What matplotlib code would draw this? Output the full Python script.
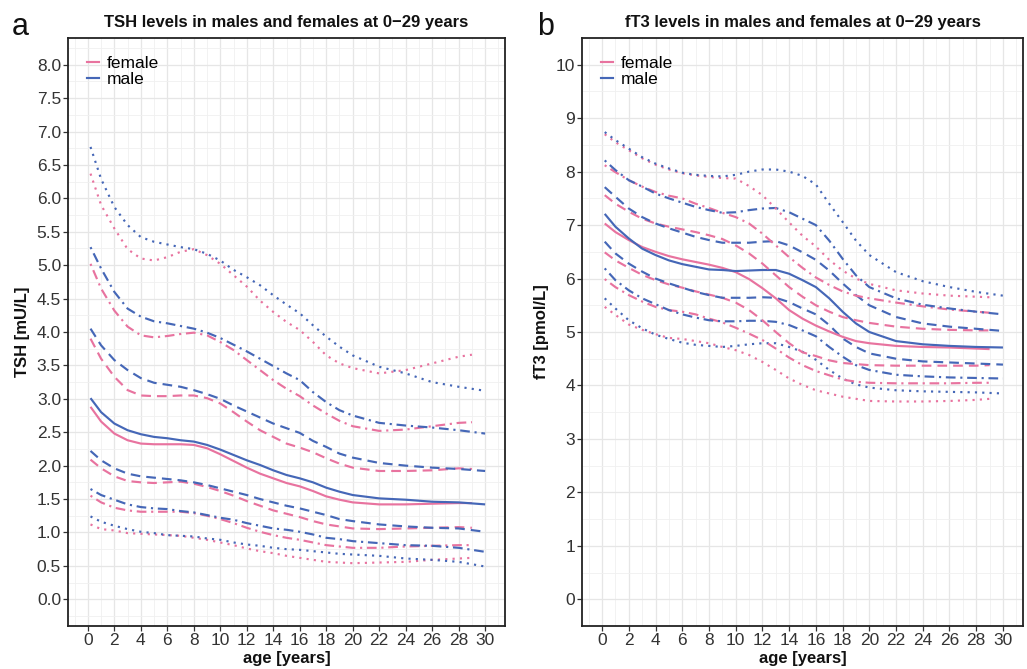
import matplotlib
matplotlib.use("Agg")
import matplotlib.pyplot as plt
from matplotlib.lines import Line2D
from matplotlib.ticker import MultipleLocator

plt.rcParams['font.family'] = ['Liberation Sans', 'DejaVu Sans']

# ---------------- data ----------------
age_m = [0.2, 1, 2, 3, 4, 5, 6, 7, 8, 9, 10, 11, 12, 13, 14, 15, 16, 17, 18, 19, 20, 22, 24, 26, 28, 30]
age_f = [0.2, 1, 2, 3, 4, 5, 6, 7, 8, 9, 10, 11, 12, 13, 14, 15, 16, 17, 18, 19, 20, 22, 24, 26, 28, 29]
percentile_styles = ["p2.5", "p5", "p25", "p50", "p75", "p95", "p97.5"]

# TSH [mU/L]
tsh_male = {
    "p97.5": [6.77, 6.29, 5.87, 5.60, 5.42, 5.35, 5.31, 5.27, 5.24, 5.17, 5.07, 4.93, 4.82, 4.70, 4.55, 4.41, 4.28, 4.10, 3.93, 3.78, 3.65, 3.48, 3.38, 3.25, 3.18, 3.12],
    "p95":   [5.27, 4.95, 4.60, 4.35, 4.23, 4.16, 4.13, 4.09, 4.05, 3.99, 3.91, 3.81, 3.71, 3.60, 3.49, 3.38, 3.28, 3.10, 2.95, 2.83, 2.75, 2.64, 2.60, 2.57, 2.53, 2.48],
    "p75":   [4.05, 3.80, 3.58, 3.43, 3.31, 3.24, 3.21, 3.18, 3.13, 3.07, 3.00, 2.90, 2.81, 2.72, 2.63, 2.56, 2.49, 2.37, 2.28, 2.18, 2.12, 2.04, 2.00, 1.97, 1.95, 1.92],
    "p50":   [3.01, 2.80, 2.63, 2.53, 2.47, 2.43, 2.41, 2.38, 2.36, 2.31, 2.24, 2.16, 2.08, 2.01, 1.93, 1.86, 1.81, 1.75, 1.67, 1.61, 1.56, 1.51, 1.49, 1.46, 1.45, 1.42],
    "p25":   [2.22, 2.08, 1.96, 1.88, 1.84, 1.82, 1.80, 1.78, 1.75, 1.71, 1.66, 1.61, 1.56, 1.50, 1.45, 1.40, 1.36, 1.31, 1.26, 1.20, 1.17, 1.12, 1.09, 1.07, 1.06, 1.01],
    "p5":    [1.65, 1.56, 1.49, 1.42, 1.38, 1.36, 1.35, 1.32, 1.30, 1.26, 1.22, 1.19, 1.14, 1.10, 1.06, 1.04, 1.01, 0.97, 0.92, 0.90, 0.87, 0.84, 0.81, 0.80, 0.77, 0.71],
    "p2.5":  [1.24, 1.16, 1.10, 1.05, 1.01, 0.99, 0.96, 0.95, 0.94, 0.91, 0.89, 0.85, 0.82, 0.80, 0.77, 0.75, 0.74, 0.72, 0.70, 0.68, 0.67, 0.65, 0.61, 0.59, 0.56, 0.49],
}
tsh_female = {
    "p97.5": [6.37, 5.90, 5.55, 5.24, 5.10, 5.07, 5.12, 5.20, 5.24, 5.15, 5.02, 4.85, 4.68, 4.47, 4.30, 4.15, 4.03, 3.85, 3.65, 3.53, 3.46, 3.38, 3.43, 3.53, 3.63, 3.66],
    "p95":   [5.02, 4.65, 4.32, 4.08, 3.95, 3.92, 3.94, 3.97, 3.99, 3.95, 3.85, 3.73, 3.58, 3.43, 3.28, 3.15, 3.04, 2.90, 2.78, 2.67, 2.59, 2.52, 2.54, 2.59, 2.64, 2.65],
    "p75":   [3.90, 3.60, 3.33, 3.13, 3.05, 3.04, 3.04, 3.05, 3.05, 3.01, 2.93, 2.80, 2.66, 2.53, 2.43, 2.33, 2.27, 2.20, 2.11, 2.03, 1.97, 1.92, 1.92, 1.93, 1.96, 1.95],
    "p50":   [2.88, 2.66, 2.48, 2.38, 2.33, 2.32, 2.32, 2.32, 2.31, 2.26, 2.17, 2.07, 1.97, 1.88, 1.81, 1.74, 1.69, 1.62, 1.54, 1.49, 1.45, 1.42, 1.42, 1.43, 1.44, 1.44],
    "p25":   [2.09, 1.96, 1.84, 1.77, 1.75, 1.74, 1.75, 1.76, 1.73, 1.68, 1.62, 1.55, 1.47, 1.40, 1.33, 1.28, 1.23, 1.17, 1.12, 1.09, 1.06, 1.05, 1.06, 1.07, 1.08, 1.07],
    "p5":    [1.55, 1.45, 1.37, 1.33, 1.31, 1.31, 1.31, 1.31, 1.29, 1.25, 1.20, 1.14, 1.07, 1.01, 0.96, 0.92, 0.89, 0.85, 0.81, 0.79, 0.77, 0.77, 0.79, 0.80, 0.81, 0.81],
    "p2.5":  [1.12, 1.05, 1.03, 0.99, 0.98, 0.97, 0.96, 0.95, 0.92, 0.89, 0.85, 0.81, 0.76, 0.72, 0.69, 0.65, 0.62, 0.59, 0.56, 0.55, 0.54, 0.55, 0.56, 0.59, 0.61, 0.62],
}

# fT3 [pmol/L]
ft3_male = {
    "p97.5": [8.74, 8.59, 8.43, 8.27, 8.15, 8.06, 7.98, 7.94, 7.92, 7.91, 7.94, 8.00, 8.04, 8.04, 8.00, 7.92, 7.76, 7.40, 7.06, 6.71, 6.44, 6.12, 5.95, 5.84, 5.75, 5.68],
    "p95":   [8.21, 8.03, 7.84, 7.72, 7.59, 7.50, 7.42, 7.34, 7.28, 7.23, 7.24, 7.28, 7.31, 7.32, 7.24, 7.12, 7.00, 6.71, 6.37, 6.06, 5.84, 5.63, 5.51, 5.44, 5.38, 5.33],
    "p75":   [7.71, 7.53, 7.31, 7.15, 7.03, 6.94, 6.86, 6.78, 6.72, 6.67, 6.67, 6.67, 6.69, 6.70, 6.62, 6.49, 6.35, 6.15, 5.91, 5.69, 5.50, 5.28, 5.16, 5.10, 5.06, 5.02],
    "p50":   [7.21, 6.97, 6.75, 6.56, 6.44, 6.34, 6.27, 6.22, 6.17, 6.16, 6.14, 6.15, 6.16, 6.16, 6.09, 5.97, 5.84, 5.63, 5.38, 5.16, 5.00, 4.83, 4.77, 4.74, 4.72, 4.71],
    "p25":   [6.69, 6.47, 6.28, 6.13, 6.00, 5.91, 5.83, 5.75, 5.69, 5.64, 5.64, 5.64, 5.65, 5.64, 5.56, 5.44, 5.33, 5.13, 4.88, 4.72, 4.60, 4.50, 4.45, 4.43, 4.41, 4.39],
    "p5":    [6.19, 5.97, 5.78, 5.63, 5.52, 5.41, 5.33, 5.27, 5.22, 5.20, 5.20, 5.21, 5.21, 5.19, 5.13, 5.03, 4.92, 4.72, 4.54, 4.38, 4.29, 4.20, 4.17, 4.15, 4.14, 4.13],
    "p2.5":  [5.63, 5.44, 5.22, 5.07, 4.95, 4.87, 4.80, 4.76, 4.74, 4.72, 4.74, 4.77, 4.79, 4.79, 4.72, 4.63, 4.48, 4.29, 4.13, 4.02, 3.96, 3.91, 3.89, 3.88, 3.87, 3.85],
}
ft3_female = {
    "p97.5": [8.70, 8.55, 8.40, 8.25, 8.13, 8.04, 7.97, 7.93, 7.90, 7.88, 7.87, 7.73, 7.56, 7.31, 7.05, 6.80, 6.60, 6.35, 6.15, 6.00, 5.90, 5.78, 5.72, 5.68, 5.66, 5.65],
    "p95":   [8.12, 7.99, 7.84, 7.72, 7.62, 7.55, 7.50, 7.40, 7.32, 7.23, 7.15, 7.03, 6.84, 6.62, 6.40, 6.20, 6.02, 5.88, 5.76, 5.68, 5.63, 5.55, 5.48, 5.42, 5.38, 5.36],
    "p75":   [7.56, 7.40, 7.25, 7.12, 7.03, 6.97, 6.92, 6.87, 6.81, 6.74, 6.62, 6.47, 6.28, 6.06, 5.84, 5.66, 5.50, 5.38, 5.28, 5.22, 5.17, 5.10, 5.06, 5.04, 5.03, 5.03],
    "p50":   [7.03, 6.87, 6.72, 6.59, 6.50, 6.42, 6.36, 6.31, 6.26, 6.20, 6.12, 5.99, 5.82, 5.63, 5.41, 5.25, 5.12, 5.01, 4.91, 4.83, 4.79, 4.74, 4.72, 4.71, 4.69, 4.68],
    "p25":   [6.49, 6.34, 6.20, 6.07, 5.97, 5.89, 5.83, 5.76, 5.70, 5.64, 5.55, 5.41, 5.22, 5.00, 4.79, 4.62, 4.55, 4.47, 4.42, 4.40, 4.38, 4.37, 4.37, 4.37, 4.37, 4.38],
    "p5":    [5.99, 5.84, 5.69, 5.57, 5.47, 5.41, 5.38, 5.33, 5.25, 5.18, 5.08, 4.97, 4.85, 4.69, 4.52, 4.38, 4.27, 4.19, 4.11, 4.07, 4.05, 4.04, 4.04, 4.04, 4.05, 4.05],
    "p2.5":  [5.47, 5.32, 5.14, 5.04, 4.96, 4.89, 4.87, 4.83, 4.79, 4.72, 4.66, 4.57, 4.44, 4.29, 4.13, 4.01, 3.91, 3.85, 3.79, 3.75, 3.71, 3.70, 3.70, 3.71, 3.73, 3.75],
}

x_ticks = list(range(0, 31, 2))
tsh_ticks = [i * 0.5 for i in range(17)]
ft3_ticks = list(range(0, 11))

# ---------------- style ----------------
COL_F = "#E8739F"
COL_M = "#4567B7"
LW = 1.55
dotted = (0, (1, 2.4))
dashdot = (0, (1, 2.2, 4.5, 2.2))
dashed = (0, (4.5, 2.8))
style_of = {"p2.5": dotted, "p97.5": dotted, "p5": dashdot, "p95": dashdot,
            "p25": dashed, "p75": dashed, "p50": "solid"}

W, H = 1027, 669
fig = plt.figure(figsize=(W / 100, H / 100), dpi=100)
fig.patch.set_facecolor("white")


def px_axes(l, r, t, b):
    return fig.add_axes([l / W, 1 - b / H, (r - l) / W, (b - t) / H])


axA = px_axes(68, 505, 38, 626)
axB = px_axes(582, 1023, 38, 626)


def draw(ax, male, female, yticks, ylim, yminor, title, ylabel):
    ax.set_facecolor("white")
    for key in percentile_styles:
        ax.plot(age_f, female[key], color=COL_F, lw=LW, linestyle=style_of[key],
                dash_capstyle="butt", solid_capstyle="butt", zorder=3)
        ax.plot(age_m, male[key], color=COL_M, lw=LW, linestyle=style_of[key],
                dash_capstyle="butt", solid_capstyle="butt", zorder=3)
    ax.set_xlim(-1.5, 31.5)
    ax.set_ylim(*ylim)
    ax.set_xticks(x_ticks)
    ax.set_xticklabels([str(v) for v in x_ticks])
    ax.set_yticks(yticks)
    if isinstance(yticks[1], float):
        ax.set_yticklabels([f"{v:.1f}" for v in yticks])
    else:
        ax.set_yticklabels([str(v) for v in yticks])
    ax.xaxis.set_minor_locator(MultipleLocator(1))
    ax.yaxis.set_minor_locator(MultipleLocator(yminor))
    ax.grid(which="major", color="#E6E6E6", lw=0.9, zorder=0)
    ax.grid(which="minor", color="#F0F0F0", lw=0.6, zorder=0)
    ax.set_axisbelow(True)
    ax.tick_params(which="minor", length=0)
    ax.tick_params(which="major", length=3.5, width=0.9, color="#333333",
                   labelsize=12.5, labelcolor="#333333", pad=1.5)
    for s in ax.spines.values():
        s.set_color("#222222")
        s.set_linewidth(1.3)
    ax.set_title(title, fontsize=12, fontweight="bold", pad=8, color="#111111")
    ax.set_xlabel("age [years]", fontsize=12, fontweight="bold", labelpad=2, color="#111111")
    ax.set_ylabel(ylabel, fontsize=12, fontweight="bold", labelpad=5, color="#111111")
    handles = [Line2D([0], [0], color=COL_F, lw=LW), Line2D([0], [0], color=COL_M, lw=LW)]
    ax.legend(handles, ["female", "male"], loc="upper left", bbox_to_anchor=(0.035, 0.975),
              frameon=False, fontsize=12.5, handlelength=0.7, handletextpad=0.45,
              labelspacing=0.05, borderaxespad=0, borderpad=0.2)


draw(axA, tsh_male, tsh_female, tsh_ticks, (-0.4, 8.4), 0.25,
     "TSH levels in males and females at 0\u221229 years", "TSH [mU/L]")
draw(axB, ft3_male, ft3_female, ft3_ticks, (-0.5, 10.5), 0.5,
     "fT3 levels in males and females at 0\u221229 years", "fT3 [pmol/L]")

fig.text(12 / W, 1 - 35 / H, "a", fontsize=22, va="baseline", ha="left", color="#111111")
fig.text(537 / W, 1 - 35 / H, "b", fontsize=22, va="baseline", ha="left", color="#111111")

fig.savefig("out.png", dpi=100, facecolor="white")
